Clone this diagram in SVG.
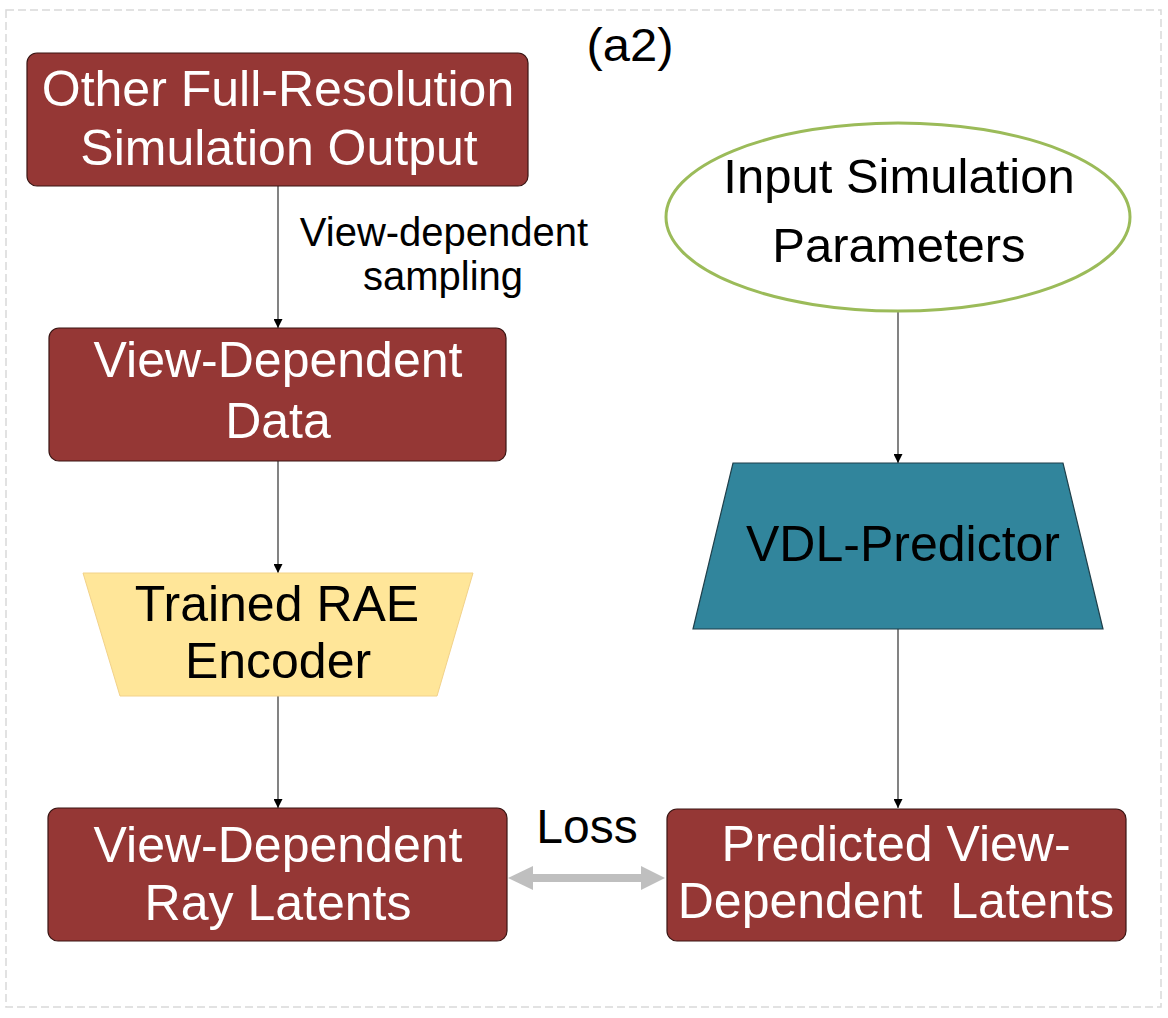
<svg xmlns="http://www.w3.org/2000/svg" width="1168" height="1018" viewBox="0 0 1168 1018">
<style>
text{font-family:"Liberation Sans",Arial,sans-serif;text-anchor:middle}
.box{fill:#953735;stroke:#3a1513;stroke-width:1.2}
.wt{fill:#ffffff;font-size:50px}
.bt{fill:#000000;font-size:50px}
.lbl{fill:#000000;font-size:40px}
.conn{stroke:#404040;stroke-width:1.3;fill:none;marker-end:url(#ah)}
</style>
<defs>
<marker id="ah" markerWidth="9" markerHeight="9" refX="9" refY="4.5" orient="auto" markerUnits="userSpaceOnUse">
<path d="M0,0 L9,4.5 L0,9 Z" fill="#000000"/>
</marker>
</defs>
<rect x="6" y="10" width="1155" height="997" fill="#ffffff" stroke="#d9d9d9" stroke-width="1.5" stroke-dasharray="8,4"/>
<g id="title"><text x="630" y="61" class="lbl" style="font-size:46px" textLength="87" lengthAdjust="spacingAndGlyphs">(a2)</text></g>
<g id="connectors">
<line class="conn" x1="278" y1="186" x2="278" y2="328"/>
<line class="conn" x1="278" y1="461" x2="278" y2="573"/>
<line class="conn" x1="278" y1="696" x2="278" y2="808"/>
<line class="conn" x1="898" y1="311" x2="898" y2="463"/>
<line class="conn" x1="898" y1="629" x2="898" y2="808"/>
<g id="loss-arrow">
<rect x="530" y="874" width="115" height="8" fill="#bfbfbf"/>
<path d="M508,878 L533,866 L533,890 Z" fill="#bfbfbf"/>
<path d="M665,878 L641,866 L641,890 Z" fill="#bfbfbf"/>
</g>
<text x="444" y="246" class="lbl">View-dependent</text>
<text x="443" y="290" class="lbl">sampling</text>
<text x="587" y="843" class="lbl" style="font-size:48px">Loss</text>
</g>
<g id="full-res-output">
<rect class="box" x="27" y="53" width="501" height="133" rx="10"/>
<text x="278" y="106" class="wt">Other Full-Resolution</text>
<text x="279" y="165" class="wt">Simulation Output</text>
</g>
<g id="view-dependent-data">
<rect class="box" x="49" y="328" width="457" height="133" rx="10"/>
<text x="278" y="377" class="wt">View-Dependent</text>
<text x="278" y="438" class="wt">Data</text>
</g>
<g id="rae-encoder">
<path d="M83,573 L473,573 L437,696 L120,696 Z" fill="#ffe699" stroke="#f2d28a" stroke-width="1"/>
<text x="277" y="621" class="bt">Trained RAE</text>
<text x="278" y="678" class="bt">Encoder</text>
</g>
<g id="ray-latents">
<rect class="box" x="48" y="808" width="459" height="133" rx="10"/>
<text x="278" y="862" class="wt">View-Dependent</text>
<text x="278" y="920" class="wt">Ray Latents</text>
</g>
<g id="input-params">
<ellipse cx="898" cy="217" rx="232" ry="94" fill="#ffffff" stroke="#9bbb59" stroke-width="3"/>
<text x="899" y="193" class="bt" style="font-size:49px">Input Simulation</text>
<text x="899" y="262" class="bt" style="font-size:49px">Parameters</text>
</g>
<g id="vdl-predictor">
<path d="M733,463 L1063,463 L1103,629 L693,629 Z" fill="#31859c" stroke="#1f3f4a" stroke-width="1.2"/>
<text x="903" y="561" class="bt">VDL-Predictor</text>
</g>
<g id="predicted-latents">
<rect class="box" x="667" y="809" width="459" height="132" rx="10"/>
<text x="896" y="861" class="wt">Predicted View-</text>
<text x="896" y="918" class="wt" xml:space="preserve">Dependent  Latents</text>
</g>
</svg>
